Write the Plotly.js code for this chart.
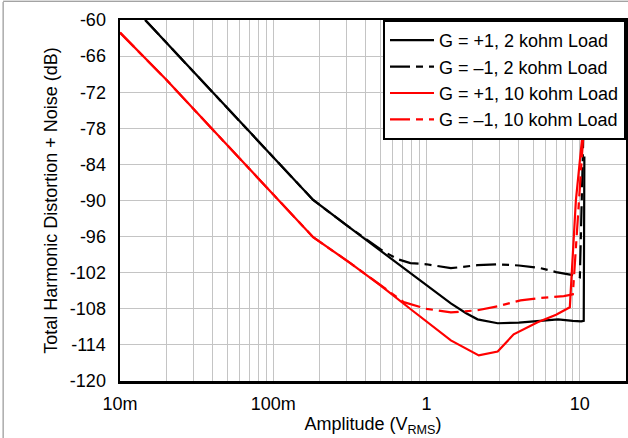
<!DOCTYPE html>
<html>
<head>
<meta charset="utf-8">
<script src="https://cdn.plot.ly/plotly-3.0.1.min.js"></script>
<style>
html, body { margin: 0; padding: 0; background: #fff; }
#chart { width: 628px; height: 438px; }
</style>
</head>
<body>
<div id="chart"></div>
<script>
// Series: G = +1, 2 kohm Load
const bsX = [0.0146, 0.03, 0.0687, 0.12, 0.182, 0.3, 0.5, 0.8, 1.44, 1.8, 2.15, 2.91, 4.0, 5.5, 7.2, 9.0, 10.2, 10.6, 10.7];
const bsY = [-60, -68.5, -78.3, -84.9, -89.9, -94.1, -98.3, -102.2, -107.1, -108.7, -109.75, -110.4, -110.3, -110.0, -109.75, -110.0, -110.1, -110.0, -82.7];
// Series: G = -1, 2 kohm Load
const bdX = [0.0146, 0.03, 0.0687, 0.12, 0.182, 0.3, 0.43, 0.52, 0.646, 0.785, 1.0, 1.44, 2.15, 2.9, 4.0, 5.56, 7.0, 9.0, 10.0, 10.6, 10.75];
const bdY = [-60, -68.5, -78.3, -84.9, -89.9, -94.1, -96.9, -98.4, -99.75, -100.4, -100.6, -101.25, -100.75, -100.6, -100.8, -101.25, -101.9, -102.4, -102.75, -78, -70];
// Series: G = +1, 10 kohm Load
const rsX = [0.01, 0.02, 0.043, 0.1, 0.182, 0.318, 0.5, 0.8, 1.44, 2.19, 2.91, 3.7, 5.3, 7.0, 8.6, 9.42, 10.5, 10.9];
const rsY = [-62.1, -69.9, -79.0, -89.0, -96.1, -100.4, -104.1, -108.2, -113.25, -115.75, -115.1, -112.25, -110.25, -109.0, -107.75, -90, -78, -71.6];
// Series: G = -1, 10 kohm Load
const rdX = [0.01, 0.02, 0.043, 0.1, 0.182, 0.318, 0.5, 0.6, 0.71, 1.0, 1.44, 2.15, 2.9, 4.1, 5.5, 7.86, 9.0, 10.6, 11.1];
const rdY = [-62.1, -69.9, -79.0, -89.0, -96.1, -100.4, -104.1, -105.6, -106.9, -108.0, -108.6, -108.25, -107.6, -106.6, -106.2, -105.9, -105.6, -78, -71.6];

const seriesNames = ["G = +1, 2 kohm Load", "G = \u20131, 2 kohm Load", "G = +1, 10 kohm Load", "G = \u20131, 10 kohm Load"];

const xTickVals = [0.01, 0.1, 1, 10];
const xTickText = ["10m", "100m", "1", "10"];
const yTickVals = [-120, -114, -108, -102, -96, -90, -84, -78, -72, -66, -60];
const yTickText = ["-120", "-114", "-108", "-102", "-96", "-90", "-84", "-78", "-72", "-66", "-60"];

const minorVals = [];
[0.01, 0.1, 1, 10].forEach(d => { for (let k = 2; k <= 9; k++) { const v = d * k; if (v <= 20) minorVals.push(v); } });

const DASH = "20px,6px,7px,6px";
const traces = [
  {x: bsX, y: bsY, name: seriesNames[0], mode: "lines", line: {color: "#000000", width: 2.2}},
  {x: bdX, y: bdY, name: seriesNames[1], mode: "lines", line: {color: "#000000", width: 2.2, dash: DASH}},
  {x: rsX, y: rsY, name: seriesNames[2], mode: "lines", line: {color: "#ff0000", width: 2.2}},
  {x: rdX, y: rdY, name: seriesNames[3], mode: "lines", line: {color: "#ff0000", width: 2.2, dash: DASH}}
];

const FONT = "Liberation Sans, Arial, sans-serif";
const FS = 18;
const layout = {
  width: 628, height: 438,
  margin: {l: 120, r: 2, t: 20, b: 57, pad: 0},
  paper_bgcolor: "#ffffff", plot_bgcolor: "#ffffff",
  font: {family: FONT, size: FS, color: "#000000"},
  showlegend: true,
  legend: {
    x: 1, xanchor: "right", y: 1, yanchor: "top",
    bgcolor: "#ffffff", bordercolor: "#000000", borderwidth: 2,
    font: {family: FONT, size: FS, color: "#000000"},
    tracegroupgap: 0, itemwidth: 44
  },
  xaxis: {
    type: "log", range: [Math.log10(0.01), Math.log10(20)],
    tickmode: "array", tickvals: xTickVals, ticktext: xTickText,
    ticks: "", ticklabelstandoff: 5,
    showgrid: true, gridcolor: "#c4c4c4", gridwidth: 1,
    minor: {tickmode: "array", tickvals: minorVals, showgrid: true, gridcolor: "#c4c4c4", gridwidth: 1, ticks: ""},
    showline: true, linecolor: "#000000", linewidth: 2.5, mirror: true,
    zeroline: false,
    tickfont: {family: FONT, size: FS, color: "#000000"},
    title: {text: "Amplitude (V<sub>RMS</sub>)", font: {family: FONT, size: FS, color: "#000000"}, standoff: 2}
  },
  yaxis: {
    range: [-120, -60],
    tickmode: "array", tickvals: yTickVals, ticktext: yTickText,
    ticks: "", ticklabelstandoff: 8,
    showgrid: true, gridcolor: "#c4c4c4", gridwidth: 1,
    showline: true, linecolor: "#000000", linewidth: 2.5, mirror: true,
    zeroline: false,
    tickfont: {family: FONT, size: FS, color: "#000000"},
    title: {text: "Total Harmonic Distortion + Noise (dB)", font: {family: FONT, size: FS, color: "#000000"}, standoff: 8}
  },
  shapes: [
    {type: "line", xref: "paper", yref: "paper", x0: -0.231, x1: -0.231, y0: 1.05, y1: -0.16, line: {color: "#808080", width: 1}},
    {type: "line", xref: "paper", yref: "paper", x0: -0.231, x1: 1.01, y0: 1.052, y1: 1.052, line: {color: "#808080", width: 1}}
  ]
};

Plotly.newPlot("chart", traces, layout, {displayModeBar: false, staticPlot: true});
</script>
</body>
</html>
